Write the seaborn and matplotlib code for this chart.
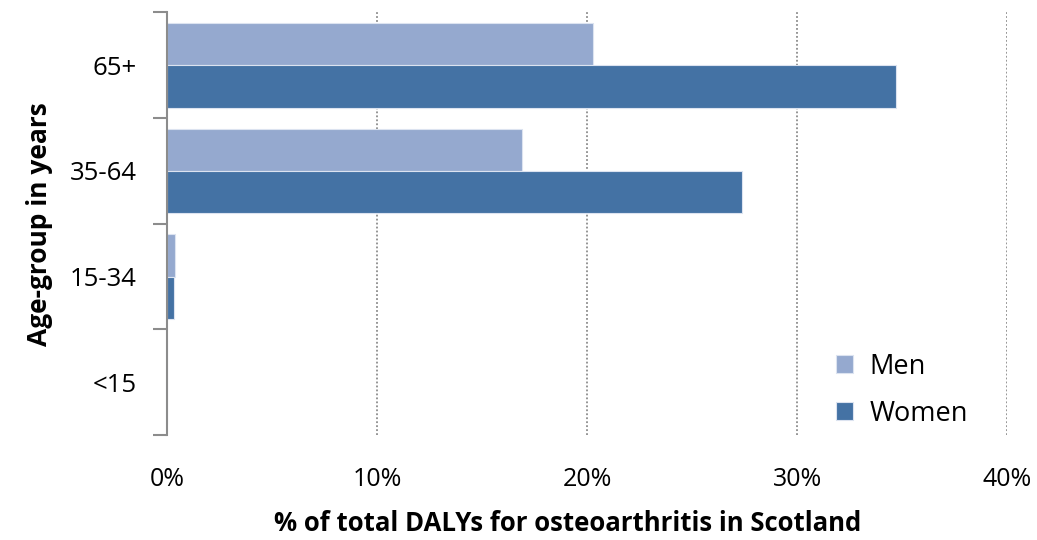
import matplotlib
matplotlib.use("Agg")
import matplotlib.pyplot as plt
import seaborn as sns
import pandas as pd
from matplotlib.ticker import FixedLocator, FuncFormatter

age_groups = ["65+", "35-64", "15-34", "<15"]
men = [20.3, 16.9, 0.35, 0.0]
women = [34.7, 27.4, 0.3, 0.0]
series = ["Men", "Women"]
colors = ["#95A9CF", "#4472A4"]
x_ticks = [0, 10, 20, 30, 40]

df = pd.DataFrame({
    "age": age_groups * 2,
    "value": men + women,
    "sex": [series[0]] * len(age_groups) + [series[1]] * len(age_groups),
})

sns.set_style("white")
plt.rcParams["font.family"] = ["Open Sans", "DejaVu Sans"]
plt.rcParams["text.color"] = "black"
plt.rcParams["xtick.color"] = "black"
plt.rcParams["ytick.color"] = "black"
plt.rcParams["axes.labelcolor"] = "black"

fig = plt.figure(figsize=(10.37, 5.40), dpi=100)
ax = fig.add_axes([0.1615, 0.1944, 0.8095, 0.7826])

sns.barplot(data=df, y="age", x="value", hue="sex", order=age_groups,
            hue_order=series, palette=colors, orient="h", ax=ax,
            edgecolor="#DCE3F0", linewidth=0.8, width=0.8, saturation=1)

ax.set_xlim(0, 40)
ax.set_ylim(len(age_groups) - 0.5, -0.5)
ax.xaxis.set_major_locator(FixedLocator(x_ticks))
ax.xaxis.set_major_formatter(FuncFormatter(lambda v, p: f"{v:.0f}%"))
for t in x_ticks[1:]:
    ax.axvline(t, color="#8C8C8C", linestyle=(0, (1, 1.2)), linewidth=1.3, zorder=0)

for s in ["top", "right", "bottom"]:
    ax.spines[s].set_visible(False)
ax.spines["left"].set_color("#8C8C8C")
ax.spines["left"].set_linewidth(1.5)

ax.yaxis.set_minor_locator(FixedLocator([i - 0.5 for i in range(len(age_groups) + 1)]))
ax.tick_params(axis="y", which="minor", length=10, width=1.5, color="#8C8C8C", left=True)
ax.tick_params(axis="y", which="major", length=0, pad=22, labelsize=18.5)
ax.tick_params(axis="x", which="major", length=0, pad=23, labelsize=18)

ax.set_xlabel("% of total DALYs for osteoarthritis in Scotland", fontsize=18.5,
              fontweight="bold", va="center")
ax.xaxis.set_label_coords(0.477, -0.21)
ax.set_ylabel("Age-group in years", fontsize=19, fontweight="bold", labelpad=12)

leg = ax.legend(loc="lower right", bbox_to_anchor=(0.97, -0.015), frameon=False,
                borderpad=0, fontsize=19.5, handlelength=0.65, handleheight=0.65,
                handletextpad=0.6, labelspacing=0.7)

fig.savefig("out.png", dpi=100)
